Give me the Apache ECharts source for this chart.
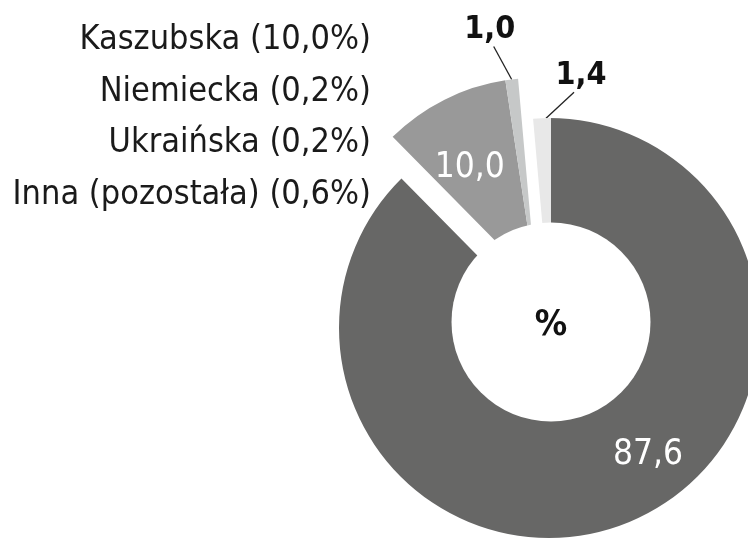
<!DOCTYPE html>
<html>
<head>
<meta charset="utf-8">
<script src="https://cdn.jsdelivr.net/npm/echarts@6/dist/echarts.min.js"></script>
<style>
html, body { margin: 0; padding: 0; background: #fff; }
#main { width: 748px; height: 542px; }
</style>
</head>
<body>
<div id="main"></div>
<script>
// dane
var names = ['Polska', 'Kaszubska', 'Inna', 'Nieustalona'];
var values = [87.6, 10.0, 1.0, 1.4];
var valueLabels = ['87,6', '10,0', '1,0', '1,4'];
var colors = ['#676766', '#999999', '#c6c8c8', '#e8e8e8'];
var legendLines = ['Kaszubska (10,0%)', 'Niemiecka (0,2%)', 'Ukraińska (0,2%)', 'Inna (pozostała) (0,6%)'];

var FONT = '"DejaVu Sans Condensed", sans-serif';

var chart = echarts.init(document.getElementById('main'));

// each ring shows only some slices, the rest stay transparent so angles match
function ringData(visible, labelFor) {
    return values.map(function (v, i) {
        var on = visible.indexOf(i) >= 0;
        var item = {
            name: names[i],
            value: v,
            itemStyle: { color: on ? colors[i] : 'rgba(0,0,0,0)' },
            label: { show: false },
            labelLine: { show: false }
        };
        if (on && labelFor[i]) {
            item.label = labelFor[i];
            item.labelLine = { show: labelFor[i].position === 'outside', lineStyle: { color: '#222', width: 1.3 } };
        }
        return item;
    });
}

var insideLabel = {
    show: true, position: 'inside', formatter: function (p) { return valueLabels[p.dataIndex]; },
    color: '#fff', fontSize: 35, fontFamily: FONT
};
var outsideLabel = {
    show: true, position: 'outside', formatter: function (p) { return valueLabels[p.dataIndex]; },
    color: '#111', fontSize: 32, fontWeight: 'bold', fontFamily: FONT
};

// leader line offsets for the small outer labels
var leader = {
    2: { line: [-18, -33], text: [-4, -17], shift: 0 },
    3: { line: [28, -26], text: [7, -17], shift: 4 }
};
function outerLayout(p) {
    var l = leader[p.dataIndex];
    if (!l || !p.labelLinePoints) return {};
    var s = p.labelLinePoints[0];
    var a = [s[0] + l.shift, s[1]];
    var e = [a[0] + l.line[0], a[1] + l.line[1]];
    return {
        x: e[0] + l.text[0], y: e[1] + l.text[1],
        align: 'center', verticalAlign: 'middle',
        labelLinePoints: [a, e]
    };
}

var base = {
    type: 'pie',
    startAngle: 90,
    clockwise: true,
    avoidLabelOverlap: false,
    silent: true,
    emphasis: { disabled: true },
    itemStyle: { borderWidth: 0 }
};

var option = {
    animation: false,
    backgroundColor: '#fff',
    graphic: legendLines.map(function (t, i) {
        return {
            type: 'text', x: 371, y: 40 + i * 51.7,
            style: { text: t, align: 'right', verticalAlign: 'middle', fill: '#1a1a1a', fontSize: 34, fontFamily: FONT }
        };
    }),
    series: [
        Object.assign({}, base, {
            center: [549, 328], radius: [90, 210],
            data: ringData([0], { 0: insideLabel }),
            labelLayout: { dx: 41, dy: -15 }
        }),
        Object.assign({}, base, {
            center: [551, 322], radius: [90, 204],
            data: ringData([3], { 3: outsideLabel }),
            labelLayout: outerLayout
        }),
        Object.assign({}, base, {
            center: [536, 282], radius: [50, 204],
            data: ringData([1, 2], { 1: insideLabel, 2: outsideLabel }),
            labelLayout: function (p) {
                if (p.dataIndex === 1) return { dx: -8, dy: 2 };
                return outerLayout(p);
            }
        }),
        Object.assign({}, base, {
            z: 5,
            center: [551, 322], radius: [0, 99.5],
            data: [{ name: '%', value: 1, itemStyle: { color: '#fff' } }],
            label: { show: true, position: 'center', formatter: '%', color: '#111', fontSize: 36, fontWeight: 'bold', fontFamily: FONT },
            labelLine: { show: false },
            labelLayout: { dy: 4 }
        })
    ]
};

chart.setOption(option);
</script>
</body>
</html>
